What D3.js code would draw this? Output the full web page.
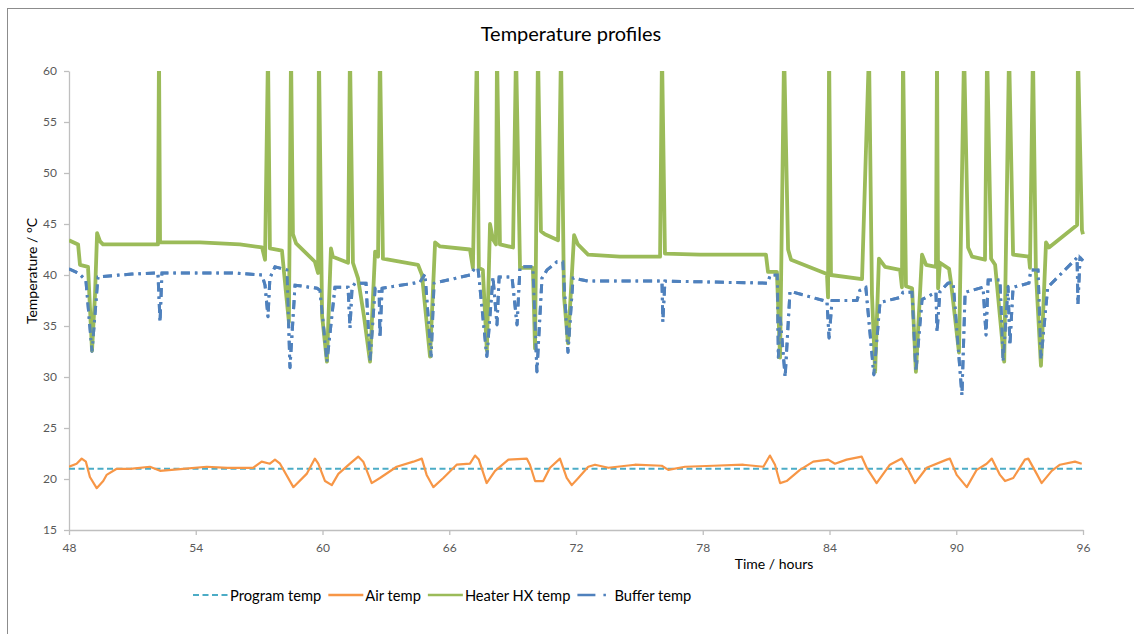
<!DOCTYPE html>
<html><head><meta charset="utf-8">
<script src="https://cdn.jsdelivr.net/npm/d3@7"></script>
<style>
body{margin:0;background:#fff}
svg{display:block}
text{font-family:Lato,"Open Sans",sans-serif}
</style>
</head><body>
<svg id="chart" width="1134" height="634"></svg>
<script>
// ---------- data ----------
const chartTitle = "Temperature profiles";
const xTitle = "Time / hours";
const yTitle = "Temperature / °C";
const hourTicks = [48, 54, 60, 66, 72, 78, 84, 90, 96];
const tempTicks = [15, 20, 25, 30, 35, 40, 45, 50, 55, 60];
const seriesNames = ["Program temp", "Air temp", "Heater HX temp", "Buffer temp"];

const programTemp = [[48, 21], [96, 21]];

const airTemp = [
  [48.00,21.2],[48.36,21.5],[48.60,22.0],[48.80,21.7],[48.99,20.2],[49.31,19.1],[49.62,19.8],[49.78,20.4],
  [50.26,21.0],[50.90,21.0],[51.83,21.2],[52.31,20.8],[53.40,21.0],[54.52,21.2],[55.50,21.1],[56.71,21.1],
  [57.12,21.7],[57.51,21.5],[57.75,21.9],[57.99,21.5],[58.62,19.2],[59.25,20.5],[59.64,22.0],[59.80,21.5],
  [60.12,19.8],[60.44,19.4],[60.75,20.5],[61.30,21.5],[61.69,22.2],[61.93,21.7],[62.33,19.6],[62.72,20.1],
  [63.51,21.2],[64.30,21.7],[64.70,22.0],[64.93,20.4],[65.25,19.2],[65.72,20.1],[66.35,21.4],[66.98,21.5],
  [67.22,22.3],[67.40,21.9],[67.77,19.6],[68.17,20.8],[68.80,21.9],[69.67,22.0],[69.82,21.4],[70.06,19.8],
  [70.45,19.8],[70.77,21.1],[71.24,22.0],[71.56,20.1],[71.80,19.4],[72.11,20.1],[72.58,21.2],[72.90,21.4],
  [73.53,21.1],[74.79,21.4],[76.06,21.3],[76.37,20.9],[77.16,21.2],[78.50,21.3],[79.92,21.4],[80.87,21.2],
  [81.18,22.3],[81.42,21.4],[81.66,19.6],[81.97,19.8],[82.60,20.9],[83.23,21.7],[83.94,21.9],[84.26,21.5],
  [84.81,21.9],[85.52,22.2],[85.76,21.1],[86.23,19.6],[86.86,21.4],[87.42,22.0],[87.73,20.9],[88.05,19.6],
  [88.60,21.1],[89.55,21.9],[89.70,22.0],[90.02,20.4],[90.50,19.2],[90.97,20.9],[91.44,21.5],[91.68,22.0],
  [92.07,20.4],[92.31,19.8],[92.70,20.1],[93.25,21.9],[93.41,22.0],[93.81,20.5],[94.04,19.6],[94.52,20.8],
  [94.91,21.4],[95.62,21.7],[95.94,21.5]
];

const heaterTemp = [
  [48.00,43.4],[48.43,43.0],[48.52,41.0],[48.90,40.8],[49.09,32.6],[49.23,38.0],[49.33,44.1],[49.47,43.3],
  [49.61,43.0],[52.21,43.0],[52.26,62],[52.31,43.2],[54.20,43.2],[56.09,43.0],[57.14,42.7],[57.28,41.5],
  [57.42,62],[57.51,42.6],[58.08,42.4],[58.27,38.3],[58.41,35.4],[58.51,62],[58.60,44.0],[58.75,43.1],
  [59.64,41.3],[59.79,40.2],[59.83,62],[59.98,36.0],[60.21,31.5],[60.40,42.6],[60.49,41.8],[61.21,41.2],
  [61.30,62],[61.44,41.2],[61.68,39.7],[61.96,36.0],[62.25,31.5],[62.49,42.3],[62.63,41.8],[62.72,62],
  [62.86,41.6],[64.52,41.0],[64.71,40.0],[65.09,32.0],[65.33,43.2],[65.56,42.8],[66.98,42.5],[67.12,40.7],
  [67.31,62],[67.40,40.7],[67.59,40.5],[67.78,32.6],[67.93,45.0],[68.07,43.5],[68.21,43.0],[68.26,62],
  [68.40,43.0],[69.02,42.7],[69.16,62],[69.35,40.7],[69.96,40.7],[70.06,32.8],[70.20,62],[70.34,44.3],
  [70.53,44.0],[71.15,43.4],[71.29,62],[71.43,38.0],[71.62,33.3],[71.91,43.9],[72.09,43.0],[72.57,42.0],
  [74.08,41.8],[75.98,41.8],[76.07,62],[76.21,42.1],[77.87,42.0],[80.99,42.0],[81.09,40.3],[81.51,40.3],
  [81.66,31.9],[81.85,62],[82.04,42.5],[82.18,41.5],[83.88,40.1],[83.93,37.8],[83.98,62],[84.07,40.0],
  [85.54,39.6],[85.87,62],[86.01,38.1],[86.16,30.5],[86.34,41.6],[86.63,40.8],[87.34,40.5],[87.43,38.8],
  [87.48,62],[87.62,38.9],[87.91,38.7],[88.09,30.5],[88.38,42.0],[88.57,41.0],[89.04,40.8],[89.09,62],
  [89.14,38.7],[89.23,41.2],[89.66,40.6],[89.75,39.3],[90.13,32.4],[90.37,62],[90.56,42.7],[90.75,41.8],
  [91.36,41.5],[91.46,62],[91.65,41.6],[91.84,41.0],[92.27,31.5],[92.50,62],[92.69,42.0],[93.44,41.8],
  [93.49,40.7],[93.63,62],[93.77,40.3],[94.01,31.1],[94.25,43.2],[94.39,42.7],[95.72,44.9],[95.76,62],
  [95.95,44.4],[96.00,44.0]
];

const bufferTemp = [
  [48.00,40.6],[48.43,40.2],[48.80,39.5],[49.09,32.5],[49.37,39.8],[50.98,40.1],[52.21,40.2],[52.31,35.4],
  [52.40,40.2],[55.72,40.2],[57.14,40.0],[57.28,39.0],[57.42,35.9],[57.51,39.7],[57.75,40.8],[58.32,40.5],
  [58.46,30.9],[58.70,39.0],[59.74,38.7],[59.88,38.5],[60.21,31.5],[60.59,38.8],[61.21,38.8],[61.30,34.8],
  [61.40,38.8],[61.54,39.2],[62.06,39.2],[62.25,31.5],[62.49,38.7],[62.68,38.7],[62.72,33.8],[62.82,38.7],
  [64.62,39.3],[64.85,40.1],[65.14,32.0],[65.28,39.2],[66.98,40.0],[67.22,40.7],[67.36,40.7],[67.78,32.0],
  [68.07,39.8],[68.26,35.1],[68.36,39.8],[68.97,39.8],[69.21,35.1],[69.35,40.8],[69.96,40.8],[70.15,30.5],
  [70.39,39.7],[70.63,40.5],[71.10,41.3],[71.38,41.3],[71.62,32.4],[71.86,39.7],[72.57,39.4],[76.07,39.4],
  [76.11,35.4],[76.21,39.4],[81.06,39.2],[81.20,40.0],[81.53,40.0],[81.58,31.9],[81.66,36.0],[81.90,30.0],
  [82.13,38.4],[83.88,37.4],[83.98,33.8],[84.12,37.5],[85.30,37.5],[85.44,38.5],[85.72,38.8],[86.10,30.2],
  [86.39,37.3],[87.34,37.8],[87.48,38.3],[87.91,38.3],[88.09,30.5],[88.38,37.6],[89.04,38.3],[89.09,34.4],
  [89.23,38.4],[89.61,39.2],[89.85,39.3],[90.27,28.2],[90.42,38.3],[91.27,38.8],[91.41,34.1],[91.51,39.5],
  [92.07,39.5],[92.22,31.5],[92.45,38.9],[92.54,33.1],[92.69,38.8],[93.44,39.2],[93.53,40.5],[93.87,40.5],
  [94.01,31.7],[94.33,38.8],[95.72,41.7],[95.76,37.1],[95.86,41.7],[96.00,41.4]
];

// ---------- drawing ----------
const svg = d3.select("#chart");
const W = 1134, H = 634;
const plot = {left: 69, right: 1083, top: 71, bottom: 530};

const x = d3.scaleLinear().domain([48, 96]).range([plot.left, plot.right]);
const y = d3.scaleLinear().domain([15, 60]).range([plot.bottom, plot.top]);

// frame (top and left edges visible)
svg.append("rect").attr("x", 7.5).attr("y", 8.5).attr("width", W + 20).attr("height", H + 20)
  .attr("fill", "none").attr("stroke", "#8c8c8c").attr("stroke-width", 1);

// title
svg.append("text").attr("x", 571).attr("y", 41).attr("text-anchor", "middle")
  .attr("font-size", 20).attr("fill", "#000").text(chartTitle);

// axes
const axisColor = "#bfbfbf", labelColor = "#595959";
const yAxis = svg.append("g").attr("transform", `translate(${plot.left},0)`)
  .call(d3.axisLeft(y).tickValues(tempTicks).tickSize(5).tickSizeOuter(0).tickPadding(7));
const xAxis = svg.append("g").attr("transform", `translate(0,${plot.bottom})`)
  .call(d3.axisBottom(x).tickValues(hourTicks).tickSize(5).tickSizeOuter(0).tickPadding(8));
[yAxis, xAxis].forEach(g => {
  g.select(".domain").attr("stroke", axisColor).attr("stroke-width", 1.3);
  g.selectAll(".tick line").attr("stroke", axisColor).attr("stroke-width", 1.3);
  g.selectAll(".tick text").attr("fill", labelColor).attr("font-size", 12)
    .attr("font-family", "Lato, 'Open Sans', sans-serif");
});

// axis titles
svg.append("text").attr("transform", "translate(31,271) rotate(-90)").attr("text-anchor", "middle")
  .attr("dominant-baseline", "central").attr("font-size", 14).attr("fill", "#000").text(yTitle);
svg.append("text").attr("x", 774).attr("y", 569).attr("text-anchor", "middle")
  .attr("font-size", 14).attr("fill", "#000").text(xTitle);

// clip
svg.append("defs").append("clipPath").attr("id", "plotClip").append("rect")
  .attr("x", plot.left).attr("y", plot.top).attr("width", plot.right - plot.left + 4)
  .attr("height", plot.bottom - plot.top);

const line = d3.line().x(d => x(d[0])).y(d => y(d[1]));
const gPlot = svg.append("g").attr("clip-path", "url(#plotClip)");

const styles = [
  {data: programTemp, color: "#4bacc6", width: 2, dash: "6,3.5", legendDash: "6,3.5"},
  {data: airTemp, color: "#f79646", width: 2.2, dash: null, legendDash: null},
  {data: heaterTemp, color: "#9bbb59", width: 3.8, dash: null, legendDash: null},
  {data: bufferTemp, color: "#4f81bd", width: 3, dash: "9,5,2.5,5", legendDash: "18,8,2.5,8"}
];
const drawOrder = [0, 1, 3, 2];
drawOrder.forEach(i => {
  const s = styles[i];
  gPlot.append("path").datum(s.data).attr("d", line).attr("fill", "none")
    .attr("stroke", s.color).attr("stroke-width", s.width)
    .attr("stroke-linejoin", "round")
    .attr("stroke-dasharray", s.dash);
});
// keep buffer visible on top where it overlaps heater dips
gPlot.append("path").datum(bufferTemp).attr("d", line).attr("fill", "none")
  .attr("stroke", styles[3].color).attr("stroke-width", styles[3].width)
  .attr("stroke-dasharray", styles[3].dash).attr("opacity", 0.9);

// legend
const legend = svg.append("g");
let lx = 193;
const ly = 595;
seriesNames.forEach((name, i) => {
  const s = styles[i];
  legend.append("line").attr("x1", lx).attr("x2", lx + 35).attr("y1", ly).attr("y2", ly)
    .attr("stroke", s.color).attr("stroke-width", i === 0 ? 2 : 2.6)
    .attr("stroke-dasharray", s.legendDash);
  const t = legend.append("text").attr("x", lx + 37).attr("y", ly).attr("dominant-baseline", "central")
    .attr("font-size", 14.7).attr("fill", "#000").text(name);
  lx += 37 + t.node().getComputedTextLength() + 7;
});
</script>
</body></html>
